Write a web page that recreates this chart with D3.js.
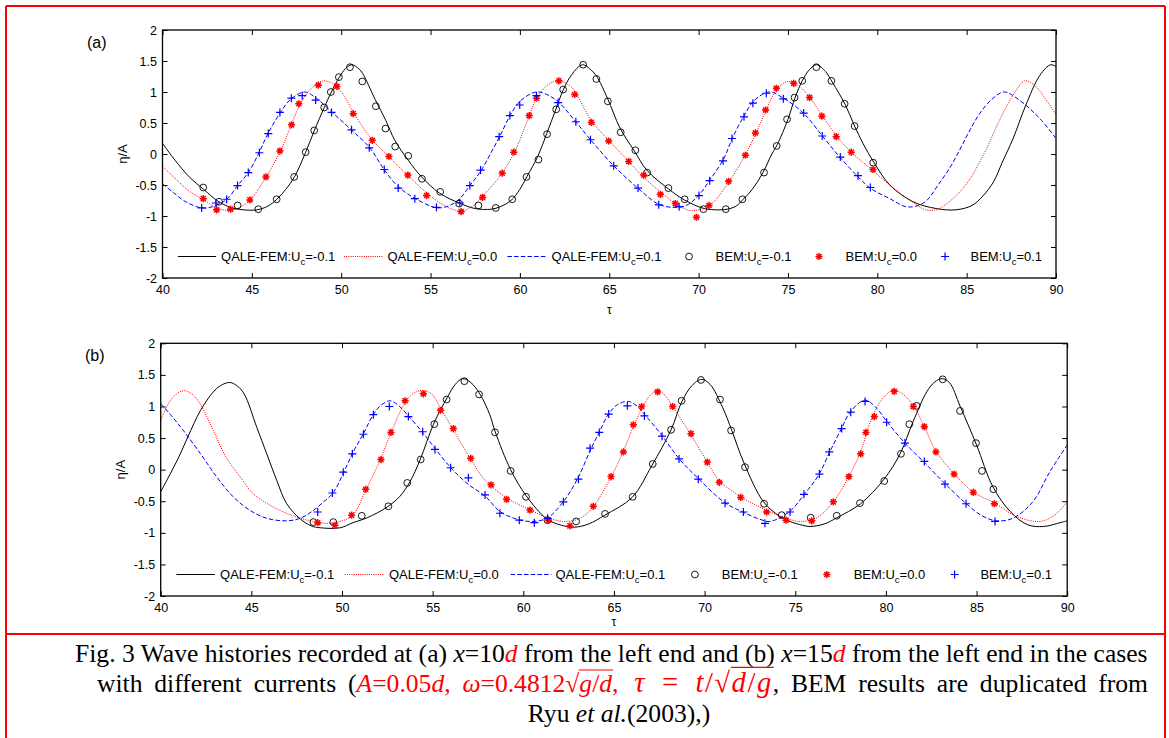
<!DOCTYPE html>
<html>
<head>
<meta charset="utf-8">
<script src="https://cdn.jsdelivr.net/npm/d3@7"></script>
<style>
  body { margin: 0; background: #fff; }
  svg { display: block; }
</style>
</head>
<body>
<svg id="fig" width="1169" height="738"></svg>
<script>
// ---------- tick labels ----------
const tauTicks = [40, 45, 50, 55, 60, 65, 70, 75, 80, 85, 90];
const etaTicks = [-2, -1.5, -1, -0.5, 0, 0.5, 1, 1.5, 2];

// ---------- legend labels (QALE-FEM lines, then BEM markers) ----------
const legendPrefix = ["QALE-FEM:U", "QALE-FEM:U", "QALE-FEM:U", "BEM:U", "BEM:U", "BEM:U"];
const legendSuffix = ["=-0.1", "=0.0", "=0.1", "=-0.1", "=0.0", "=0.1"];

// ---------- (a) x = 10d : QALE-FEM time histories [tau, eta/A] ----------
const qaleA_m01 = [[40,0.17],[40.7,-0.1],[41.5,-0.37],[42.3,-0.57],[43.1,-0.76],[43.8,-0.86],[44.5,-0.9],[45.3,-0.9],[45.9,-0.84],[46.4,-0.73],[46.9,-0.57],[47.4,-0.36],[48.0,0.02],[48.5,0.38],[49.05,0.75],[49.45,1.0],[49.9,1.24],[50.25,1.38],[50.6,1.44],[51.0,1.37],[51.2,1.3],[51.9,0.88],[52.5,0.54],[53.0,0.22],[53.75,-0.1],[54.5,-0.37],[55.5,-0.63],[56.6,-0.79],[57.5,-0.88],[58.4,-0.89],[58.9,-0.85],[59.5,-0.75],[60.0,-0.57],[60.4,-0.36],[61.0,-0.04],[61.5,0.33],[62.0,0.71],[62.4,1.02],[62.9,1.28],[63.5,1.44],[64.0,1.35],[64.3,1.25],[64.9,0.9],[65.6,0.42],[66.4,0.05],[67.1,-0.26],[68.3,-0.56],[69.2,-0.74],[70.2,-0.87],[70.9,-0.9],[71.6,-0.89],[72.1,-0.84],[72.5,-0.73],[73.0,-0.57],[73.6,-0.3],[74.1,0.0],[74.4,0.15],[75.0,0.56],[75.4,0.91],[75.8,1.18],[76.2,1.36],[76.6,1.44],[77.1,1.33],[77.5,1.15],[78.2,0.8],[78.7,0.47],[79.2,0.17],[79.8,-0.13],[80.7,-0.5],[82.0,-0.77],[83.3,-0.88],[84.4,-0.9],[85.3,-0.83],[85.9,-0.68],[86.5,-0.45],[87.0,-0.13],[87.6,0.25],[88.3,0.78],[89.1,1.27],[89.7,1.44],[90.0,1.41]];
const qaleA_000 = [[40,-0.2],[40.8,-0.42],[41.5,-0.6],[42.3,-0.74],[43.0,-0.86],[43.6,-0.91],[44.2,-0.88],[44.9,-0.74],[45.8,-0.37],[46.6,0.05],[47.2,0.46],[47.7,0.8],[48.3,1.05],[48.96,1.18],[49.6,1.12],[50.2,0.92],[50.7,0.66],[51.7,0.24],[52.7,-0.05],[53.7,-0.34],[54.8,-0.63],[55.7,-0.82],[56.7,-0.92],[57.4,-0.83],[57.9,-0.68],[58.3,-0.56],[58.9,-0.35],[59.7,0.03],[60.5,0.6],[60.9,0.88],[61.5,1.1],[62.15,1.18],[62.8,1.1],[63.1,1.0],[64.0,0.54],[65.0,0.21],[66.1,-0.12],[66.9,-0.37],[67.9,-0.62],[68.7,-0.8],[69.5,-0.91],[70.0,-0.9],[70.6,-0.84],[71.7,-0.45],[72.6,-0.02],[73.2,0.33],[73.75,0.69],[74.35,1.03],[75.0,1.17],[75.6,1.1],[76.2,0.92],[76.9,0.63],[77.7,0.3],[78.5,0.04],[79.8,-0.28],[80.9,-0.55],[82.0,-0.78],[82.7,-0.9],[83.3,-0.9],[83.9,-0.8],[85.0,-0.48],[86.1,0.08],[86.8,0.52],[87.6,0.95],[88.25,1.18],[88.7,1.13],[89.1,1.01],[89.5,0.85],[90,0.64]];
const qaleA_p01 = [[40,-0.48],[40.6,-0.62],[41.3,-0.77],[42.2,-0.87],[42.8,-0.85],[43.6,-0.73],[44.2,-0.51],[44.8,-0.3],[45.4,0.02],[45.9,0.33],[46.6,0.67],[47.2,0.89],[47.97,1.0],[48.6,0.9],[49.5,0.67],[50.6,0.38],[51.6,0.1],[52.4,-0.25],[53.2,-0.53],[54.1,-0.71],[55.0,-0.84],[55.4,-0.87],[56.0,-0.84],[56.6,-0.73],[57.2,-0.51],[57.8,-0.28],[58.4,0.03],[58.9,0.3],[59.45,0.62],[60.0,0.85],[60.9,1.0],[61.5,0.96],[62.15,0.84],[63.1,0.53],[63.95,0.23],[65.25,-0.19],[66.6,-0.55],[67.7,-0.8],[68.5,-0.86],[69.3,-0.83],[70.0,-0.67],[70.6,-0.43],[71.4,-0.08],[71.9,0.26],[72.55,0.62],[73.1,0.86],[73.95,1.0],[74.7,0.91],[75.9,0.65],[76.9,0.3],[77.9,-0.05],[78.9,-0.36],[79.6,-0.55],[80.7,-0.72],[81.6,-0.85],[82.3,-0.83],[82.8,-0.74],[83.4,-0.5],[84.0,-0.25],[84.6,0.06],[85.1,0.34],[85.7,0.64],[86.4,0.88],[87.1,1.0],[87.9,0.88],[89.1,0.57],[90.0,0.25]];

// ---------- (a) x = 10d : BEM samples ----------
const bemA_m01 = [[42.28,-0.54],[43.16,-0.77],[44.2,-0.83],[45.36,-0.89],[46.39,-0.73],[47.37,-0.37],[48.01,0.03],[48.49,0.38],[49.05,0.75],[49.42,1.0],[49.87,1.24],[50.49,1.4],[51.18,1.17],[51.94,0.77],[52.48,0.41],[53.02,0.12],[53.75,-0.03],[54.52,-0.4],[55.54,-0.61],[56.6,-0.8],[57.68,-0.83],[58.65,-0.87],[59.57,-0.73],[60.37,-0.37],[61.04,-0.09],[61.52,0.32],[62.03,0.72],[62.42,1.04],[63.54,1.44],[64.28,1.21],[64.92,0.85],[65.64,0.35],[66.46,0.06],[67.12,-0.3],[68.31,-0.55],[69.22,-0.73],[70.27,-0.89],[71.52,-0.89],[72.45,-0.73],[73.66,-0.3],[74.37,0.13],[74.95,0.56],[75.37,0.91],[75.8,1.18],[76.59,1.4],[77.43,1.18],[78.17,0.81],[78.73,0.45],[79.77,-0.14]];
const bemA_000 = [[42.28,-0.72],[43.03,-0.9],[43.81,-0.89],[44.89,-0.74],[45.79,-0.37],[46.57,0.05],[47.22,0.47],[47.63,0.81],[48.72,1.11],[49.76,1.09],[50.67,0.65],[51.74,0.22],[52.67,-0.04],[53.73,-0.34],[54.78,-0.67],[56.71,-0.93],[57.91,-0.7],[59.01,-0.31],[59.66,0.03],[60.52,0.62],[60.93,0.9],[62.18,1.18],[63.07,0.96],[64.0,0.51],[64.97,0.21],[66.09,-0.12],[66.93,-0.34],[67.86,-0.65],[68.7,-0.8],[69.88,-1.02],[70.58,-0.83],[71.68,-0.44],[72.62,-0.02],[73.18,0.34],[73.75,0.71],[74.35,1.06],[75.32,1.14],[76.21,0.91],[76.9,0.61],[77.7,0.28],[78.54,0.03],[79.76,-0.25]];
const bemA_p01 = [[42.19,-0.87],[42.99,-0.79],[43.59,-0.73],[44.2,-0.51],[44.8,-0.3],[45.42,0.02],[45.92,0.33],[46.57,0.67],[47.21,0.9],[47.82,0.94],[48.57,0.87],[49.46,0.67],[50.58,0.39],[51.57,0.1],[52.41,-0.25],[53.19,-0.55],[54.12,-0.72],[55.33,-0.86],[56.64,-0.79],[57.2,-0.51],[57.8,-0.26],[58.84,0.28],[59.44,0.62],[59.99,0.79],[60.93,0.94],[62.14,0.83],[63.13,0.52],[63.95,0.23],[65.25,-0.19],[66.61,-0.55],[67.77,-0.82],[68.91,-0.85],[70.02,-0.67],[70.62,-0.43],[71.37,-0.11],[71.87,0.25],[72.54,0.6],[73.04,0.82],[73.79,0.98],[74.74,0.89],[75.88,0.66],[76.92,0.29],[77.93,-0.05],[78.92,-0.35],[79.61,-0.54]];

// ---------- (b) x = 15d : QALE-FEM time histories ----------
const qaleB_m01 = [[40,-0.35],[40.5,-0.08],[41.0,0.2],[41.5,0.52],[42.2,0.94],[42.9,1.23],[43.3,1.33],[43.8,1.38],[44.2,1.33],[44.6,1.2],[45.3,0.67],[45.85,0.25],[46.4,-0.17],[46.95,-0.54],[47.7,-0.78],[48.3,-0.89],[48.8,-0.92],[49.9,-0.92],[50.6,-0.84],[51.4,-0.76],[52.5,-0.59],[53.2,-0.42],[53.75,-0.19],[54.3,0.15],[55.05,0.72],[55.8,1.14],[56.25,1.35],[56.65,1.44],[57.1,1.38],[57.6,1.2],[58.15,0.87],[58.45,0.6],[59.3,0.0],[60.15,-0.41],[61.3,-0.78],[62.1,-0.88],[62.85,-0.91],[63.6,-0.86],[64.5,-0.72],[66.0,-0.44],[67.1,0.07],[68.15,0.63],[68.75,1.08],[69.3,1.33],[69.84,1.43],[70.3,1.35],[71.0,0.98],[71.5,0.62],[72.15,0.12],[73.25,-0.51],[74.15,-0.74],[74.7,-0.82],[75.4,-0.88],[75.8,-0.9],[76.6,-0.86],[77.3,-0.76],[78.6,-0.54],[79.9,-0.15],[80.8,0.26],[81.5,0.76],[82.25,1.23],[82.7,1.39],[83.1,1.44],[83.5,1.38],[84.1,1.0],[85.0,0.39],[85.9,-0.27],[86.85,-0.66],[87.8,-0.87],[88.7,-0.9],[89.6,-0.84],[90.0,-0.81]];
const qaleB_000 = [[40,0.78],[40.6,1.12],[41.25,1.25],[41.8,1.18],[42.2,1.03],[42.9,0.62],[43.6,0.2],[44.4,-0.12],[45.1,-0.38],[46.2,-0.59],[47.3,-0.73],[48.4,-0.82],[49.15,-0.85],[49.9,-0.82],[50.6,-0.72],[51.3,-0.33],[52.1,0.15],[52.75,0.62],[53.4,1.02],[53.9,1.2],[54.5,1.255],[55.0,1.18],[55.4,0.99],[56.3,0.55],[57.2,0.12],[57.9,-0.17],[59.1,-0.45],[60.4,-0.64],[61.4,-0.77],[62.4,-0.82],[63.2,-0.76],[63.9,-0.57],[64.85,-0.11],[65.5,0.28],[66.1,0.7],[66.6,1.0],[67.0,1.18],[67.41,1.26],[67.8,1.18],[68.24,1.0],[69.25,0.55],[70.15,0.12],[70.8,-0.17],[72.0,-0.43],[73.4,-0.64],[74.5,-0.77],[75.3,-0.82],[76.2,-0.76],[77.1,-0.51],[77.95,-0.11],[78.6,0.28],[79.2,0.8],[79.8,1.12],[80.42,1.26],[81.0,1.18],[81.5,1.02],[82.1,0.69],[82.75,0.3],[83.75,-0.06],[84.8,-0.35],[86.0,-0.53],[87.2,-0.74],[88.5,-0.82],[89.3,-0.72],[90,-0.51]];
const qaleB_p01 = [[40,1.05],[40.6,0.85],[41.25,0.62],[42.2,0.25],[43.1,-0.12],[44.0,-0.43],[44.9,-0.64],[45.85,-0.77],[46.95,-0.81],[47.7,-0.77],[48.4,-0.65],[48.9,-0.53],[49.5,-0.37],[50.1,-0.04],[50.6,0.27],[51.2,0.58],[51.7,0.86],[52.15,1.02],[52.65,1.09],[53.1,1.02],[53.6,0.87],[54.5,0.57],[55.2,0.31],[56.1,0.0],[57.0,-0.24],[57.9,-0.42],[58.7,-0.66],[59.6,-0.78],[60.4,-0.82],[61.3,-0.77],[62.2,-0.51],[63.0,-0.14],[63.7,0.31],[64.2,0.6],[64.7,0.88],[65.2,1.03],[65.8,1.08],[66.3,1.0],[66.7,0.87],[67.65,0.54],[68.6,0.17],[69.65,-0.14],[71.1,-0.52],[72.1,-0.67],[73.0,-0.78],[73.6,-0.82],[74.7,-0.66],[75.5,-0.39],[76.3,-0.08],[76.9,0.28],[77.55,0.65],[78.05,0.92],[78.85,1.1],[79.5,0.97],[80.0,0.78],[81.05,0.42],[82.1,0.12],[83.25,-0.22],[84.4,-0.53],[85.3,-0.73],[86.1,-0.81],[87.0,-0.77],[88.1,-0.51],[89.05,-0.03],[90.0,0.39]];

// ---------- (b) x = 15d : BEM samples ----------
const bemB_m01 = [[48.42,-0.83],[49.52,-0.83],[51.09,-0.73],[52.56,-0.58],[53.6,-0.21],[54.34,0.16],[55.09,0.72],[55.77,1.11],[56.75,1.4],[57.56,1.19],[58.44,0.59],[59.3,-0.02],[60.15,-0.43],[61.33,-0.8],[62.91,-0.82],[64.51,-0.7],[66.03,-0.43],[67.14,0.09],[68.15,0.63],[68.73,1.09],[69.8,1.42],[70.85,1.11],[71.46,0.62],[72.23,0.04],[73.28,-0.54],[74.25,-0.72],[75.85,-0.76],[77.29,-0.73],[78.57,-0.53],[79.91,-0.18],[80.83,0.25],[81.29,0.72],[81.7,1.01],[83.13,1.43],[84.09,0.93],[84.97,0.42],[85.3,-0.02],[85.93,-0.31]];
const bemB_000 = [[48.66,-0.84],[49.61,-0.88],[50.53,-0.72],[51.31,-0.31],[52.15,0.16],[52.7,0.59],[53.48,1.09],[54.49,1.2],[55.44,0.94],[56.14,0.65],[57.1,0.18],[58.22,-0.24],[59.08,-0.47],[60.37,-0.64],[61.38,-0.8],[62.57,-0.89],[63.86,-0.58],[64.84,-0.11],[65.52,0.28],[66.07,0.71],[66.53,1.0],[67.41,1.23],[68.24,1.0],[69.25,0.57],[70.15,0.12],[70.81,-0.2],[71.99,-0.44],[73.42,-0.67],[74.49,-0.8],[75.91,-0.81],[77.1,-0.51],[77.96,-0.11],[78.61,0.25],[78.9,0.59],[79.36,0.84],[80.46,1.24],[81.51,1.0],[82.12,0.68],[82.76,0.28],[83.76,-0.07],[84.82,-0.36],[85.98,-0.54]];
const bemB_p01 = [[48.66,-0.67],[49.47,-0.37],[50.07,-0.04],[50.57,0.25],[51.18,0.56],[51.73,0.87],[52.61,1.0],[53.66,0.84],[54.45,0.6],[55.13,0.32],[55.99,0.03],[56.97,-0.13],[57.89,-0.4],[58.71,-0.69],[59.78,-0.8],[60.61,-0.84],[61.34,-0.77],[62.21,-0.51],[63.04,-0.15],[63.68,0.34],[64.19,0.59],[64.71,0.88],[65.74,1.01],[66.68,0.85],[67.65,0.53],[68.59,0.17],[69.65,-0.15],[71.13,-0.53],[72.14,-0.67],[73.33,-0.85],[74.71,-0.67],[75.48,-0.39],[76.33,-0.07],[76.88,0.28],[77.56,0.65],[78.06,0.91],[78.85,1.08],[80.04,0.75],[81.05,0.42],[82.12,0.13],[83.26,-0.23],[84.42,-0.54],[86.02,-0.82]];

// ---------- layout ----------
const W = 1169, H = 738;
const RED = "#ff0000", BLUE = "#0000ff", BLACK = "#000000";
const SANS = "'Liberation Sans', Arial, sans-serif";
const SERIF = "'Liberation Serif', 'Times New Roman', serif";

const panels = [
  { tag: "(a)", tagX: 87, tagY: 48, left: 162.5, right: 1056, top: 30, bottom: 278, tauY: 314,
    fem: [qaleA_m01, qaleA_000, qaleA_p01], bem: [bemA_m01, bemA_000, bemA_p01] },
  { tag: "(b)", tagX: 85, tagY: 361, left: 160.7, right: 1067.2, top: 343.3, bottom: 596, tauY: 626,
    fem: [qaleB_m01, qaleB_000, qaleB_p01], bem: [bemB_m01, bemB_000, bemB_p01] }
];

const lineStyles = [
  { color: BLACK, dash: null },
  { color: RED, dash: "1,1.2" },
  { color: BLUE, dash: "4.5,2.2" }
];
const markerKinds = ["circle", "star", "plus"];
const markerColors = [BLACK, RED, BLUE];

// legend layout, as fractions of the plot width
const legendSampleFrac = [[0.0173, 0.0599], [0.2031, 0.2468], [0.386, 0.431]];
const legendMarkFrac = [0.5893, 0.7348, 0.8758];
const legendTextFrac = [0.0655, 0.2518, 0.4354, 0.619, 0.7644, 0.9043];

const svg = d3.select("#fig");
svg.append("rect").attr("width", W).attr("height", H).attr("fill", "#fff");

function drawMarker(g, kind, color, cx, cy) {
  if (kind === "circle") {
    g.append("circle").attr("cx", cx).attr("cy", cy).attr("r", 3.4)
      .attr("fill", "none").attr("stroke", color).attr("stroke-width", 0.9);
  } else if (kind === "star") {
    const r = 3.6, p = d3.path();
    [0, 45, 90, 135].forEach(a => {
      const t = a * Math.PI / 180;
      p.moveTo(cx - r * Math.cos(t), cy - r * Math.sin(t));
      p.lineTo(cx + r * Math.cos(t), cy + r * Math.sin(t));
    });
    g.append("path").attr("d", p.toString()).attr("stroke", color)
      .attr("stroke-width", 1.5).attr("fill", "none");
  } else {
    const r = 4, p = d3.path();
    p.moveTo(cx - r, cy); p.lineTo(cx + r, cy);
    p.moveTo(cx, cy - r); p.lineTo(cx, cy + r);
    g.append("path").attr("d", p.toString()).attr("stroke", color)
      .attr("stroke-width", 1.2).attr("fill", "none");
  }
}

panels.forEach((P, pi) => {
  const x = d3.scaleLinear().domain([40, 90]).range([P.left, P.right]);
  const y = d3.scaleLinear().domain([-2, 2]).range([P.bottom, P.top]);
  const g = svg.append("g");
  const clipId = "clip" + pi;
  svg.append("clipPath").attr("id", clipId).append("rect")
    .attr("x", P.left).attr("y", P.top)
    .attr("width", P.right - P.left).attr("height", P.bottom - P.top);

  // axes with inward ticks on all four sides
  const styleAxis = sel => {
    sel.select(".domain").remove();
    sel.selectAll(".tick line").attr("stroke", BLACK).attr("stroke-width", 1);
    sel.selectAll(".tick text").attr("fill", BLACK)
      .style("font-family", SANS).style("font-size", "12.5px");
  };
  g.append("g").attr("transform", `translate(0,${P.bottom})`)
    .call(d3.axisBottom(x).tickValues(tauTicks).tickSize(-5).tickPadding(7.4).tickFormat(d => String(d)))
    .call(styleAxis);
  g.append("g").attr("transform", `translate(0,${P.top})`)
    .call(d3.axisTop(x).tickValues(tauTicks).tickSize(-5).tickFormat(""))
    .call(styleAxis);
  g.append("g").attr("transform", `translate(${P.left},0)`)
    .call(d3.axisLeft(y).tickValues(etaTicks).tickSize(-5).tickPadding(5.5).tickFormat(d => String(d)))
    .call(styleAxis);
  g.append("g").attr("transform", `translate(${P.right},0)`)
    .call(d3.axisRight(y).tickValues(etaTicks).tickSize(-5).tickFormat(""))
    .call(styleAxis);

  // QALE-FEM curves
  const line = d3.line().x(d => x(d[0])).y(d => y(d[1])).curve(d3.curveCatmullRom.alpha(0.5));
  const curves = g.append("g").attr("clip-path", `url(#${clipId})`);
  P.fem.forEach((s, i) => {
    curves.append("path").datum(s).attr("d", line)
      .attr("fill", "none").attr("stroke", lineStyles[i].color).attr("stroke-width", 1)
      .attr("stroke-dasharray", lineStyles[i].dash);
  });

  // BEM markers
  const marks = g.append("g");
  P.bem.forEach((s, i) => {
    s.forEach(d => drawMarker(marks, markerKinds[i], markerColors[i], x(d[0]), y(d[1])));
  });

  // frame
  g.append("rect").attr("x", P.left).attr("y", P.top)
    .attr("width", P.right - P.left).attr("height", P.bottom - P.top)
    .attr("fill", "none").attr("stroke", BLACK).attr("stroke-width", 1.3);

  // legend
  const w = P.right - P.left;
  const ly = P.bottom - 21.5, lb = P.bottom - 17;
  const leg = g.append("g");
  legendSampleFrac.forEach((f, i) => {
    leg.append("line").attr("x1", P.left + f[0] * w).attr("x2", P.left + f[1] * w)
      .attr("y1", ly).attr("y2", ly)
      .attr("stroke", lineStyles[i].color).attr("stroke-width", 1)
      .attr("stroke-dasharray", lineStyles[i].dash);
  });
  legendMarkFrac.forEach((f, i) => drawMarker(leg, markerKinds[i], markerColors[i], P.left + f * w, ly));
  legendTextFrac.forEach((f, i) => {
    const t = leg.append("text").attr("x", P.left + f * w).attr("y", lb)
      .style("font-family", SANS).style("font-size", "13px").attr("fill", BLACK);
    t.append("tspan").text(legendPrefix[i]);
    t.append("tspan").attr("dy", 4).style("font-size", "9.5px").text("c");
    t.append("tspan").attr("dy", -4).text(legendSuffix[i]);
  });

  // axis titles and panel tag
  g.append("text").attr("transform", `translate(${P.left - 35.5},${(P.top + P.bottom) / 2}) rotate(-90)`)
    .attr("text-anchor", "middle").style("font-family", SANS).style("font-size", "13px")
    .text("η/A");
  g.append("text").attr("x", (P.left + P.right) / 2).attr("y", P.tauY)
    .attr("text-anchor", "middle").style("font-family", SANS).style("font-size", "12px")
    .text("τ");
  g.append("text").attr("x", P.tagX).attr("y", P.tagY)
    .style("font-family", SANS).style("font-size", "16px").text(P.tag);
});

// ---------- caption ----------
// segments: [text, italic, red, role, math]  role: "rad" = radical sign, "under" = radicand
const captionLines = [
  { x: 75, y: 662, anchor: "start", justifyTo: null, segs: [
    ["Fig. 3 Wave histories recorded at (a) ", 0, 0], ["x", 1, 0], ["=10", 0, 0], ["d", 1, 1],
    [" from the left end and (b) ", 0, 0], ["x", 1, 0], ["=15", 0, 0], ["d", 1, 1],
    [" from the left end in the cases", 0, 0]] },
  { x: 97, y: 692, anchor: "start", justifyTo: 1148, segs: [
    ["with different currents (", 0, 0], ["A", 1, 1], ["=0.05", 0, 1], ["d", 1, 1], [", ", 0, 1],
    ["ω", 1, 1], ["=0.4812", 0, 1], ["√", 0, 1, "rad"], ["g", 1, 1, "under"], ["/", 0, 1, "under"], ["d", 1, 1, "under"], [",", 0, 1],
    ["\u2002τ", 1, 1, null, 1], ["\u2002=\u2002", 0, 1, null, 1], ["t", 1, 1, null, 1], ["/", 0, 1, null, 1],
    ["√", 0, 1, "rad", 1], ["d", 1, 1, "under", 1], ["/", 0, 1, "under", 1], ["g", 1, 1, "under", 1],
    [", BEM results are duplicated from", 0, 0]] },
  { x: 619, y: 722, anchor: "middle", justifyTo: null, segs: [["Ryu ", 0, 0], ["et al.", 1, 0], ["(2003),)", 0, 0]] }
];

const cap = svg.append("g");
const texts = captionLines.map(L => {
  const t = cap.append("text").attr("x", L.x).attr("y", L.y)
    .attr("text-anchor", L.anchor)
    .style("font-family", SERIF).style("font-size", "21px");
  L.segs.forEach(s => {
    const ts = t.append("tspan").text(s[0])
      .style("font-style", s[1] ? "italic" : "normal")
      .attr("fill", s[2] ? RED : BLACK);
    if (s[4]) ts.style("font-size", "112%").style("letter-spacing", "1.5px");
  });
  return t;
});
// caption size: the first line runs from its indent to the right margin
const fs = 21 * 1073 / texts[0].node().getComputedTextLength();
texts.forEach(t => t.style("font-size", fs + "px"));

// stretch word gaps of lines that run to the right margin
captionLines.forEach((L, li) => {
  if (!L.justifyTo) return;
  const node = texts[li].node();
  const wNat = node.getComputedTextLength();
  const nSpaces = L.segs.map(s => s[0]).join("").split(" ").length - 1;
  const extra = (L.justifyTo - L.x - wNat) / nSpaces;
  if (extra > 0 && extra < 8) texts[li].style("word-spacing", extra + "px");
});

// radical overbars
captionLines.forEach((L, li) => {
  const node = texts[li].node();
  let idx = 0, radEnd = null, barEnd = null, barFs = fs;
  const flush = () => {
    if (radEnd !== null && barEnd !== null) {
      const yb = L.y - 0.86 * barFs;
      cap.append("line").attr("x1", radEnd - 0.8).attr("x2", barEnd + 1)
        .attr("y1", yb).attr("y2", yb).attr("stroke", RED).attr("stroke-width", 1.2);
    }
    radEnd = null; barEnd = null;
  };
  L.segs.forEach(s => {
    const n = s[0].length;
    if (s[3] === "rad") {
      flush();
      barFs = s[4] ? fs * 1.12 : fs;
      radEnd = node.getEndPositionOfChar(idx + n - 1).x;
    } else if (s[3] === "under") {
      barEnd = node.getEndPositionOfChar(idx + n - 1).x;
    } else {
      flush();
    }
    idx += n;
  });
  flush();
});

// ---------- figure frame ----------
const frame = svg.append("g").attr("stroke", RED).attr("stroke-width", 2).attr("fill", "none");
frame.append("line").attr("x1", 6).attr("x2", 1165).attr("y1", 6).attr("y2", 6);
frame.append("line").attr("x1", 6).attr("x2", 6).attr("y1", 6).attr("y2", H);
frame.append("line").attr("x1", 1165).attr("x2", 1165).attr("y1", 6).attr("y2", H);
frame.append("line").attr("x1", 6).attr("x2", 1165).attr("y1", 634).attr("y2", 634);
</script>
</body>
</html>
